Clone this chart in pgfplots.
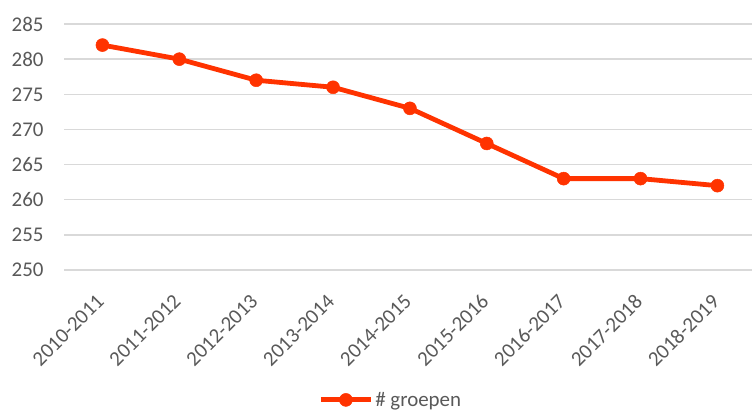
\documentclass[border=0pt]{standalone}
\usepackage{pgfplots}
\pgfplotsset{compat=1.18}
\usepackage{fontspec}
\setmainfont{Carlito}
\definecolor{lineor}{RGB}{255,51,0}
\definecolor{gridg}{RGB}{217,217,217}
\definecolor{txtg}{RGB}{89,89,89}
\begin{document}
\begin{tikzpicture}
\path[use as bounding box] (-64bp,-140bp) rectangle (688bp,270bp);
\begin{axis}[
  at={(0,0)}, anchor=south west,
  scale only axis,
  width=688bp, height=246bp,
  xmin=-0.5, xmax=8.45,
  ymin=250, ymax=285,
  ytick={250,255,...,285},
  xtick={0,...,8},
  xticklabels={2010-2011,2011-2012,2012-2013,2013-2014,2014-2015,2015-2016,2016-2017,2017-2018,2018-2019},
  ymajorgrids,
  grid style={gridg, line width=1.3bp},
  axis line style={draw=none},
  major tick length=0pt,
  /pgf/number format/assume math mode=true,
  /pgf/number format/1000 sep={},
  tick label style={font=\fontsize{21}{24}\selectfont, text=txtg},
  y tick label style={xshift=-17bp},
  x tick label style={xshift=-7bp, yshift=-18bp, rotate=45, anchor=north east},
  legend style={at={(0.475,-0.528)}, anchor=center, draw=none, fill=none, font=\fontsize{21}{24}\selectfont, text=txtg, legend columns=1, inner sep=0pt},
  legend cell align=left,
  legend image code/.code={\draw[mark repeat=2, mark phase=2, #1] plot coordinates {(0bp,0bp) (25bp,0bp) (50bp,0bp)};},
]
\addplot[lineor, line width=4.8bp, mark=*, mark size=6.5bp, mark options={fill=lineor, draw=lineor, line width=0.5bp}] coordinates {
(0,282) (1,280) (2,277) (3,276) (4,273) (5,268) (6,263) (7,263) (8,262)
};
\addlegendentry{\# groepen}
\end{axis}
\end{tikzpicture}
\end{document}
